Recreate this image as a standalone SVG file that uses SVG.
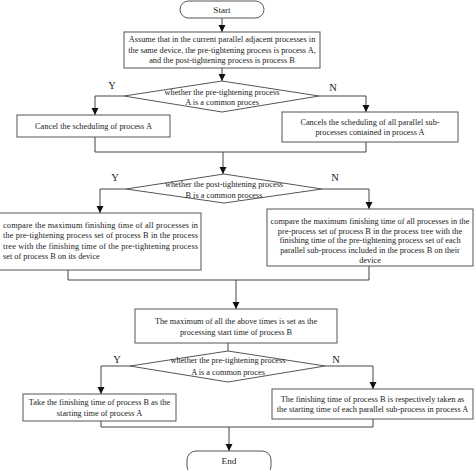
<svg xmlns="http://www.w3.org/2000/svg" width="474" height="470" viewBox="0 0 474 470">
<style>
.box{fill:#fff;stroke:#555;stroke-width:1}
.t{font-family:"Liberation Serif","Times New Roman",serif;font-size:8.3px;fill:#222;text-anchor:middle}
.tl{font-family:"Liberation Serif","Times New Roman",serif;font-size:8.3px;fill:#222}
.tt{font-family:"Liberation Serif","Times New Roman",serif;font-size:9.2px;fill:#222;text-anchor:middle}
.yn{font-family:"Liberation Serif","Times New Roman",serif;font-size:10.5px;fill:#222;text-anchor:middle}
.c{fill:none;stroke:#444;stroke-width:1}
</style>
<defs>
<marker id="ah" viewBox="0 0 10 10" refX="10" refY="5" markerWidth="7" markerHeight="8" markerUnits="userSpaceOnUse" orient="auto">
<path d="M0,0 L10,5 L0,10 Z" fill="#111"/>
</marker>
</defs>
<rect width="474" height="470" fill="#fff"/>
<g id="connectors">
<path class="c" d="M222,18 V32" marker-end="url(#ah)"/>
<path class="c" d="M222,68 V81" marker-end="url(#ah)"/>
<path class="c" d="M124,96 H95 V115" marker-end="url(#ah)"/>
<path class="c" d="M319,96 H366 V112" marker-end="url(#ah)"/>
<path class="c" d="M95,137 V152 H366 V142"/>
<path class="c" d="M223,152 V174" marker-end="url(#ah)"/>
<path class="c" d="M126,189 H100 V213" marker-end="url(#ah)"/>
<path class="c" d="M322,189 H369 V209" marker-end="url(#ah)"/>
<path class="c" d="M68,270 V280 H369 V266"/>
<path class="c" d="M236,280 V309" marker-end="url(#ah)"/>
<path class="c" d="M228,343 V351"/>
<path class="c" d="M130,366 H101 V394" marker-end="url(#ah)"/>
<path class="c" d="M325,366 H373 V389" marker-end="url(#ah)"/>
<path class="c" d="M101,421 V427 H373 V419"/>
<path class="c" d="M229,427 V451" marker-end="url(#ah)"/>
<text class="yn" x="112" y="89">Y</text>
<text class="yn" x="333" y="91">N</text>
<text class="yn" x="115" y="181">Y</text>
<text class="yn" x="335" y="181">N</text>
<text class="yn" x="117" y="363">Y</text>
<text class="yn" x="336" y="363">N</text>
</g>
<g id="start">
<rect class="box" x="180" y="1" width="84" height="17" rx="8.5"/>
<text class="tt" x="222" y="12.8">Start</text>
</g>
<g id="assume">
<rect class="box" x="124" y="32" width="196" height="36"/>
<text class="t" x="222" y="42">Assume that in the current parallel adjacent processes in</text>
<text class="t" x="222" y="52.5">the same device, the pre-tightening process is process A,</text>
<text class="t" x="222" y="63">and the post-tightening process is process B</text>
</g>
<g id="decision1">
<polygon class="box" points="124,96 222,81 319,96 222,112"/>
<text class="t" x="222" y="94.5">whether the pre-tightening process</text>
<text class="t" x="222" y="104.5">A is a common proces</text>
</g>
<g id="cancelA">
<rect class="box" x="17" y="115" width="153" height="22"/>
<text class="t" x="93.5" y="128.5">Cancel the scheduling of process A</text>
</g>
<g id="cancelSub">
<rect class="box" x="282" y="112" width="176" height="30"/>
<text class="t" x="370" y="124.5">Cancels the scheduling of all parallel sub-</text>
<text class="t" x="370" y="134.5">processes contained in process A</text>
</g>
<g id="decision2">
<polygon class="box" points="126,189 224,174 322,189 224,203"/>
<text class="t" x="224" y="186.5">whether the post-tightening process</text>
<text class="t" x="224" y="197.5">B is a common process</text>
</g>
<g id="compareY">
<rect class="box" x="-1" y="213" width="202" height="57"/>
<text class="tl" x="3" y="227.5" textLength="195" lengthAdjust="spacing">compare the maximum finishing time of all processes in</text>
<text class="tl" x="3" y="238" textLength="195" lengthAdjust="spacing">the pre-tightening process set of process B in the   process</text>
<text class="tl" x="3" y="248.5" textLength="195" lengthAdjust="spacing">tree with the finishing time of the pre-tightening process</text>
<text class="tl" x="3" y="259">set of process B on its   device</text>
</g>
<g id="compareN">
<rect class="box" x="267" y="209" width="206" height="57"/>
<text class="t" x="370" y="224">compare the maximum finishing time of all processes in the</text>
<text class="t" x="370" y="233.5">pre-process set of  process B in the process tree with the</text>
<text class="t" x="370" y="243.2">finishing time of the pre-tightening process set of  each</text>
<text class="t" x="370" y="253">parallel sub-process included in the process B on their</text>
<text class="t" x="370" y="263">device</text>
</g>
<g id="maximum">
<rect class="box" x="135" y="309" width="202" height="34"/>
<text class="t" x="236" y="323.5">The maximum of all the above times is set as the</text>
<text class="t" x="236" y="334.5">processing start time of process B</text>
</g>
<g id="decision3">
<polygon class="box" points="130,366 228,351 325,366 228,382"/>
<text class="t" x="228" y="362.5">whether the pre-tightening process</text>
<text class="t" x="228" y="374.5">A is a common proces</text>
</g>
<g id="takeY">
<rect class="box" x="23" y="394" width="153" height="27"/>
<text class="t" x="99.5" y="404.5">Take the finishing time of process B as the</text>
<text class="t" x="99.5" y="415.5">starting time of process A</text>
</g>
<g id="takeN">
<rect class="box" x="272" y="389" width="201" height="30"/>
<text class="t" x="372.5" y="401.5">The finishing time of process B is respectively taken as</text>
<text class="t" x="372.5" y="411.5">the starting time of each parallel sub-process in process A</text>
</g>
<g id="end">
<rect class="box" x="187" y="451" width="84" height="24" rx="9"/>
<text class="tt" x="229" y="463.5">End</text>
</g>
</svg>
